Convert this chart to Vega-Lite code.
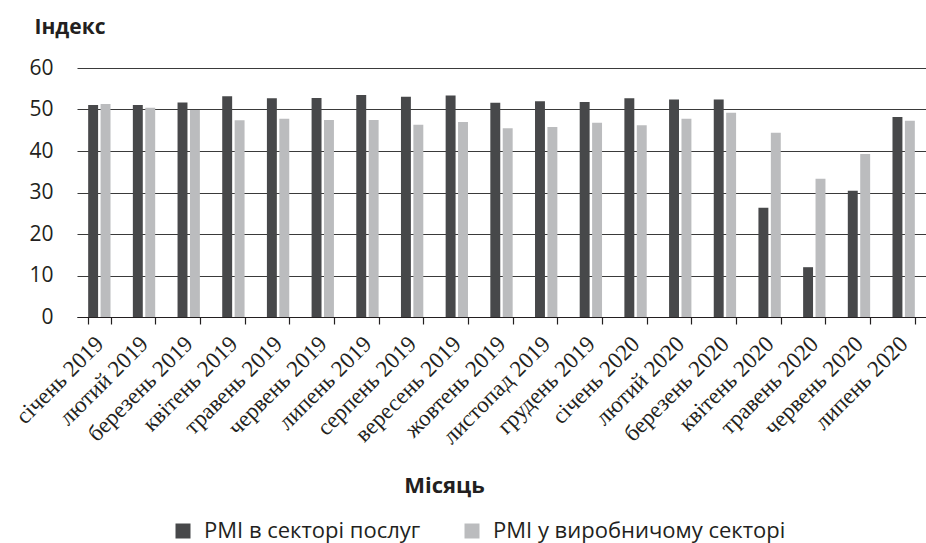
{
  "$schema": "https://vega.github.io/schema/vega-lite/v6.json",
  "autosize": "none",
  "width": 849,
  "height": 249,
  "padding": {"left": 77, "top": 68, "right": 0, "bottom": 226},
  "background": "white",
  "config": {"view": {"stroke": null}},
  "datasets": {
    "pmi": [
      {"month": "січень 2019", "series": "PMI в секторі послуг", "value": 51.1},
      {"month": "січень 2019", "series": "PMI у виробничому секторі", "value": 51.3},
      {"month": "лютий 2019", "series": "PMI в секторі послуг", "value": 51.1},
      {"month": "лютий 2019", "series": "PMI у виробничому секторі", "value": 50.4},
      {"month": "березень 2019", "series": "PMI в секторі послуг", "value": 51.7},
      {"month": "березень 2019", "series": "PMI у виробничому секторі", "value": 49.9},
      {"month": "квітень 2019", "series": "PMI в секторі послуг", "value": 53.2},
      {"month": "квітень 2019", "series": "PMI у виробничому секторі", "value": 47.4},
      {"month": "травень 2019", "series": "PMI в секторі послуг", "value": 52.7},
      {"month": "травень 2019", "series": "PMI у виробничому секторі", "value": 47.8},
      {"month": "червень 2019", "series": "PMI в секторі послуг", "value": 52.8},
      {"month": "червень 2019", "series": "PMI у виробничому секторі", "value": 47.5},
      {"month": "липень 2019", "series": "PMI в секторі послуг", "value": 53.5},
      {"month": "липень 2019", "series": "PMI у виробничому секторі", "value": 47.5},
      {"month": "серпень 2019", "series": "PMI в секторі послуг", "value": 53.1},
      {"month": "серпень 2019", "series": "PMI у виробничому секторі", "value": 46.3},
      {"month": "вересень 2019", "series": "PMI в секторі послуг", "value": 53.4},
      {"month": "вересень 2019", "series": "PMI у виробничому секторі", "value": 47.0},
      {"month": "жовтень 2019", "series": "PMI в секторі послуг", "value": 51.6},
      {"month": "жовтень 2019", "series": "PMI у виробничому секторі", "value": 45.5},
      {"month": "листопад 2019", "series": "PMI в секторі послуг", "value": 52.0},
      {"month": "листопад 2019", "series": "PMI у виробничому секторі", "value": 45.8},
      {"month": "грудень 2019", "series": "PMI в секторі послуг", "value": 51.8},
      {"month": "грудень 2019", "series": "PMI у виробничому секторі", "value": 46.8},
      {"month": "січень 2020", "series": "PMI в секторі послуг", "value": 52.7},
      {"month": "січень 2020", "series": "PMI у виробничому секторі", "value": 46.2},
      {"month": "лютий 2020", "series": "PMI в секторі послуг", "value": 52.4},
      {"month": "лютий 2020", "series": "PMI у виробничому секторі", "value": 47.8},
      {"month": "березень 2020", "series": "PMI в секторі послуг", "value": 52.4},
      {"month": "березень 2020", "series": "PMI у виробничому секторі", "value": 49.2},
      {"month": "квітень 2020", "series": "PMI в секторі послуг", "value": 26.3},
      {"month": "квітень 2020", "series": "PMI у виробничому секторі", "value": 44.4},
      {"month": "травень 2020", "series": "PMI в секторі послуг", "value": 12.0},
      {"month": "травень 2020", "series": "PMI у виробничому секторі", "value": 33.3},
      {"month": "червень 2020", "series": "PMI в секторі послуг", "value": 30.4},
      {"month": "червень 2020", "series": "PMI у виробничому секторі", "value": 39.3},
      {"month": "липень 2020", "series": "PMI в секторі послуг", "value": 48.2},
      {"month": "липень 2020", "series": "PMI у виробничому секторі", "value": 47.3}
    ]
  },
  "data": {"name": "pmi"},
  "mark": {"type": "bar"},
  "encoding": {
    "x": {
      "field": "month",
      "type": "nominal",
      "sort": ["січень 2019", "лютий 2019", "березень 2019", "квітень 2019", "травень 2019", "червень 2019", "липень 2019", "серпень 2019", "вересень 2019", "жовтень 2019", "листопад 2019", "грудень 2019", "січень 2020", "лютий 2020", "березень 2020", "квітень 2020", "травень 2020", "червень 2020", "липень 2020"],
      "scale": {"paddingInner": 0.5, "paddingOuter": 0.25},
      "axis": {
        "tickBand": "extent",
        "labelAngle": -45,
        "labelAlign": "right",
        "labelBaseline": "middle",
        "labelFont": "Liberation Serif",
        "labelFontSize": 23,
        "labelColor": "#231f20",
        "labelPadding": 16,
        "labelDx": -6,
        "tickSize": 7,
        "tickColor": "#231f20",
        "tickWidth": 1.2,
        "domainColor": "#231f20",
        "domainWidth": 1.2,
        "labelOverlap": false,
        "title": "Місяць",
        "titleFont": "Open Sans",
        "titleFontSize": 22,
        "titleFontWeight": "bold",
        "titleColor": "#231f20",
        "titleAnchor": "start",
        "titleAlign": "center",
        "titleBaseline": "alphabetic",
        "titleX": 367,
        "titleY": 175
      }
    },
    "xOffset": {
      "field": "series",
      "type": "nominal",
      "sort": ["PMI в секторі послуг", "PMI у виробничому секторі"],
      "scale": {"paddingInner": 0.2, "paddingOuter": 0}
    },
    "y": {
      "field": "value",
      "type": "quantitative",
      "scale": {"domain": [0, 60]},
      "axis": {
        "values": [0, 10, 20, 30, 40, 50, 60],
        "grid": true,
        "gridColor": "#3a3a3a",
        "gridWidth": 1.2,
        "domain": false,
        "ticks": false,
        "labelFont": "Open Sans",
        "labelFontSize": 21,
        "labelColor": "#231f20",
        "labelPadding": 24,
        "title": "Індекс",
        "titleAngle": 0,
        "titleFont": "Open Sans",
        "titleFontSize": 21,
        "titleFontWeight": "bold",
        "titleColor": "#231f20",
        "titleAlign": "left",
        "titleBaseline": "alphabetic",
        "titleX": -43,
        "titleY": -35
      }
    },
    "color": {
      "field": "series",
      "type": "nominal",
      "sort": ["PMI в секторі послуг", "PMI у виробничому секторі"],
      "scale": {"domain": ["PMI в секторі послуг", "PMI у виробничому секторі"], "range": ["#47484a", "#bbbcbe"]},
      "legend": {
        "title": null,
        "orient": "none",
        "direction": "horizontal",
        "legendX": 95,
        "legendY": 452,
        "symbolType": "square",
        "symbolSize": 225,
        "symbolStrokeWidth": 0,
        "labelFont": "Open Sans",
        "labelFontSize": 22,
        "labelColor": "#231f20",
        "labelOffset": 10,
        "columnPadding": 40,
        "labelLimit": 400
      }
    }
  }
}
